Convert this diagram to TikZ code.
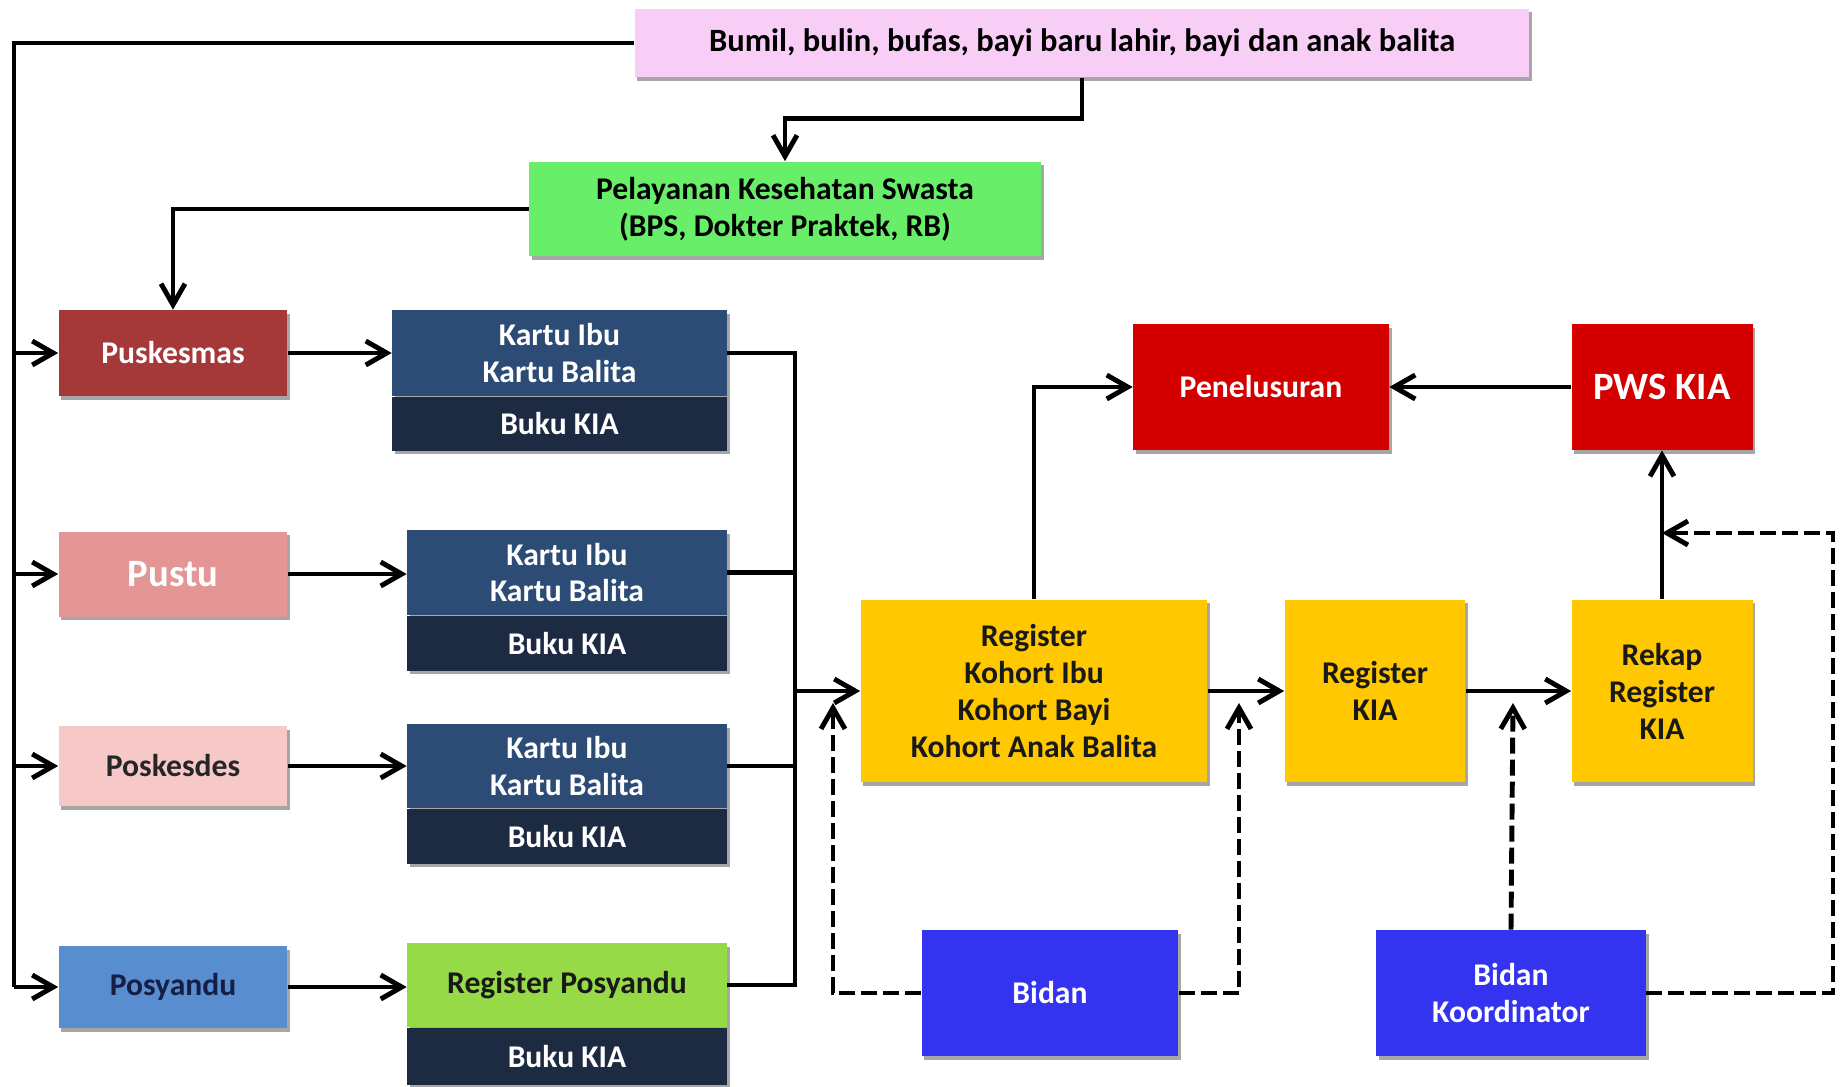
\documentclass[tikz,border=0pt]{standalone}
\usepackage{fontspec}
\setmainfont{Carlito}
\usetikzlibrary{arrows.meta}
\usetikzlibrary{positioning}
\usetikzlibrary{shadows}
\definecolor{pinkbg}{RGB}{248,206,246}
\definecolor{swastabg}{RGB}{104,238,104}
\definecolor{puskbg}{RGB}{165,56,56}
\definecolor{pustubg}{RGB}{228,150,150}
\definecolor{poskbg}{RGB}{246,200,200}
\definecolor{posybg}{RGB}{88,142,208}
\definecolor{posytxt}{RGB}{22,30,70}
\definecolor{kartubg}{RGB}{44,76,118}
\definecolor{bukubg}{RGB}{28,42,66}
\definecolor{regposbg}{RGB}{150,218,72}
\definecolor{kuningbg}{RGB}{255,200,0}
\definecolor{merahbg}{RGB}{212,0,0}
\definecolor{bidanbg}{RGB}{52,52,240}
\tikzset{blok/.style={rectangle, fill=#1, align=center, inner sep=2pt,
        font=\fontsize{18}{21}\selectfont\bfseries,
        drop shadow={shadow xshift=1.5pt, shadow yshift=-2pt,
            opacity=0.35, fill=black}},
    arr/.style={-{Straight Barb[length=4.2mm,width=4.8mm]}, line width=2.8pt},
    garis/.style={line width=2.8pt},
    dasharr/.style={arr, dash pattern=on 0.32cm off 0.12cm}}

\begin{document}
\begin{tikzpicture}[x=0.02cm, y=-0.02cm]
    \useasboundingbox (0,0) rectangle (1843,1086);

    % sasaran dan swasta
    \node[blok=pinkbg, minimum width=17.9cm, minimum height=1.38cm,
        font=\fontsize{18.5}{21}\selectfont\bfseries] (sasaran) at (1082,43)
        {Bumil, bulin, bufas, bayi baru lahir, bayi dan anak balita};
    \node[blok=swastabg, minimum width=10.24cm, minimum height=1.9cm] (swasta) at (785,209)
        {Pelayanan Kesehatan Swasta\\(BPS, Dokter Praktek, RB)};

    % fasilitas
    \node[blok=puskbg, text=white, minimum width=4.58cm, minimum height=1.72cm] (pusk) at (173,353) {Puskesmas};
    \node[blok=pustubg, text=white, minimum width=4.58cm, minimum height=1.7cm,
        font=\fontsize{22}{26}\selectfont\bfseries] (pustu) at (173,574) {Pustu};
    \node[blok=poskbg, text=black!85, minimum width=4.58cm, minimum height=1.6cm] (posk) at (173,766) {Poskesdes};
    \node[blok=posybg, text=posytxt, minimum width=4.58cm, minimum height=1.64cm] (posy) at (173,987) {Posyandu};

    % kartu dan buku
    \node[blok=kartubg, text=white, minimum width=6.7cm, minimum height=1.72cm] (kartu1) at (559.5,353) {Kartu Ibu\\Kartu Balita};
    \node[blok=bukubg, text=white, minimum width=6.7cm, minimum height=1.08cm, below=0pt of kartu1] (buku1) {Buku KIA};
    \node[blok=kartubg, text=white, minimum width=6.4cm, minimum height=1.7cm] (kartu2) at (567,572.5) {Kartu Ibu\\Kartu Balita};
    \node[blok=bukubg, text=white, minimum width=6.4cm, minimum height=1.1cm, below=0pt of kartu2] (buku2) {Buku KIA};
    \node[blok=kartubg, text=white, minimum width=6.4cm, minimum height=1.68cm] (kartu3) at (567,766) {Kartu Ibu\\Kartu Balita};
    \node[blok=bukubg, text=white, minimum width=6.4cm, minimum height=1.1cm, below=0pt of kartu3] (buku3) {Buku KIA};
    \node[blok=regposbg, text=black!90, minimum width=6.4cm, minimum height=1.68cm] (regpos) at (567,985) {Register Posyandu};
    \node[blok=bukubg, text=white, minimum width=6.4cm, minimum height=1.14cm, below=0pt of regpos] (buku4) {Buku KIA};

    % register dan pws
    \node[blok=kuningbg, text=black!90, minimum width=6.94cm, minimum height=3.66cm] (kohort) at (1034,691)
        {Register\\Kohort Ibu\\Kohort Bayi\\Kohort Anak Balita};
    \node[blok=kuningbg, text=black!90, minimum width=3.62cm, minimum height=3.66cm] (regkia) at (1375,691) {Register\\KIA};
    \node[blok=kuningbg, text=black!90, minimum width=3.62cm, minimum height=3.66cm] (rekap) at (1662,691) {Rekap\\Register\\KIA};
    \node[blok=merahbg, text=white, minimum width=5.12cm, minimum height=2.52cm] (telusur) at (1261,387) {Penelusuran};
    \node[blok=merahbg, text=white, minimum width=3.62cm, minimum height=2.52cm,
        font=\fontsize{22}{26}\selectfont\bfseries] (pws) at (1662,387) {PWS KIA};
    \node[blok=bidanbg, text=white, minimum width=5.14cm, minimum height=2.52cm] (bidan) at (1050,993) {Bidan};
    \node[blok=bidanbg, text=white, minimum width=5.4cm, minimum height=2.52cm] (bidank) at (1511,993) {Bidan\\Koordinator};

    \coordinate (kiri) at (14,43);
    \coordinate (kanan) at (795,985);
    \coordinate (d1) at (833,703);
    \coordinate (d2) at (1239,703);
    \coordinate (d3) at (1513,703);
    \coordinate (d4) at (1833,533);

    % jalur kiri
    \draw[garis] (sasaran.west) -- (kiri) -- (kiri |- posy.west);
    \draw[arr] (kiri |- pusk.west) -- (pusk.west);
    \draw[arr] (kiri |- pustu.west) -- (pustu.west);
    \draw[arr] (kiri |- posk.west) -- (posk.west);
    \draw[arr] (kiri |- posy.west) -- (posy.west);
    \draw[arr] (sasaran.south) -- ++(0,41) -| (swasta.north);
    \draw[arr] (swasta.west) -| (pusk.north);

    \draw[arr] (pusk.east) -- (pusk.east -| kartu1.west);
    \draw[arr] (pustu.east) -- (pustu.east -| kartu2.west);
    \draw[arr] (posk.east) -- (posk.east -| kartu3.west);
    \draw[arr] (posy.east) -- (posy.east -| regpos.west);

    % jalur kanan
    \draw[garis] (kartu1.east) -| (kanan) -- (regpos.east);
    \draw[garis] (kartu2.east) -- (kartu2.east -| kanan);
    \draw[garis] (kartu3.east) -- (kartu3.east -| kanan);
    \draw[arr] (kohort.west -| kanan) -- (kohort.west);
    \draw[arr] (kohort) -- (regkia);
    \draw[arr] (regkia) -- (rekap);
    \draw[arr] (rekap) -- (pws);
    \draw[arr] (pws) -- (telusur);
    \draw[arr] (kohort.north) |- (telusur.west);

    % bidan
    \draw[dasharr] (bidan.west) -| (d1);
    \draw[dasharr] (bidan.east) -| (d2);
    \draw[dasharr] (bidank.north) -- (d3);
    \draw[dasharr] (bidank.east) -| (d4) -- (d4 -| rekap.north);
\end{tikzpicture}
\end{document}
